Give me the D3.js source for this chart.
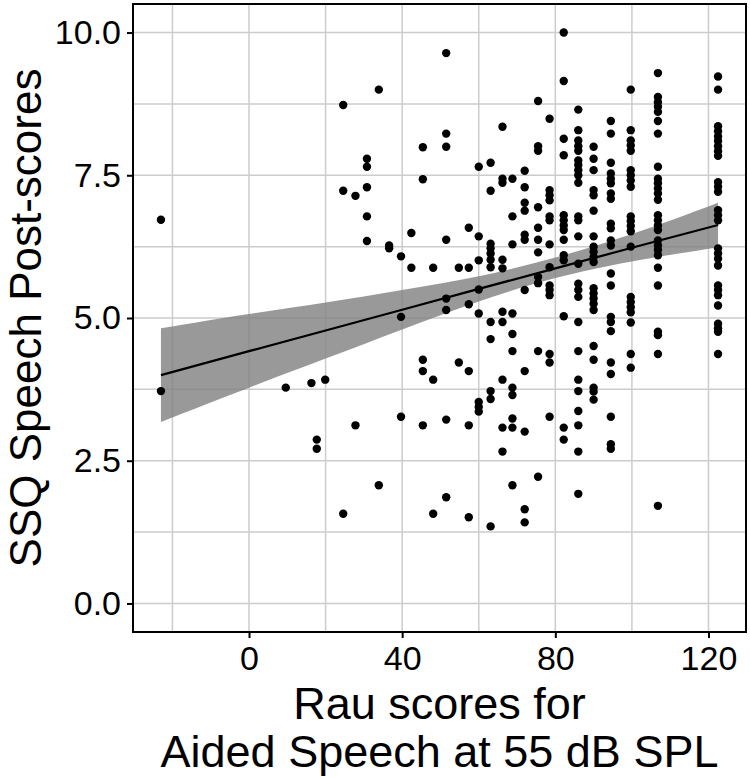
<!DOCTYPE html>
<html>
<head>
<meta charset="utf-8">
<script src="https://cdn.jsdelivr.net/npm/d3@7"></script>
<style>
    body { margin: 0; background: #fff; }
    text { font-family: "Liberation Sans", Arial, sans-serif; fill: #000; }
</style>
</head>
<body>
<svg id="chart"></svg>
<script>
// Rau score columns (x) and the SSQ post-scores read in each column
let rauColumns = [-23.0, 9.6, 16.3, 17.7, 19.9, 24.6, 27.8, 30.8, 33.9, 36.6, 39.7, 42.4, 45.4, 48.1,
    51.5, 54.8, 57.4, 60.0, 63.1, 66.2, 68.8, 72.0, 75.5, 78.5, 82.2, 86.0, 90.0, 94.5, 99.7, 106.8, 122.5];

let ssqByColumn = [
    [6.72, 3.72],
    [3.78],
    [3.86],
    [2.87, 2.71],
    [3.92],
    [8.73, 7.23, 1.57],
    [7.14, 3.12],
    [7.79, 7.65, 7.29, 6.78, 6.35],
    [9.0, 2.07],
    [6.27, 6.22],
    [6.08, 5.02, 3.27],
    [6.49, 5.88],
    [7.99, 7.43, 4.27, 4.07, 3.12],
    [5.88, 3.92, 1.57],
    [9.64, 8.23, 8.0, 6.37, 5.34, 5.14, 3.22, 1.86],
    [5.88, 4.22],
    [6.58, 5.88, 5.24, 4.07, 3.12, 1.51],
    [7.65, 6.43, 6.01, 5.50, 5.08, 3.53, 3.44, 3.36],
    [7.72, 7.23, 6.30, 6.22, 6.13, 6.02, 5.89, 4.93, 4.63, 3.72, 3.58, 1.35],
    [8.35, 7.44, 7.37, 6.02, 5.87, 5.11, 4.93, 3.92, 3.08, 2.66],
    [7.44, 6.78, 6.29, 5.08, 4.72, 4.42, 3.78, 3.65, 3.24, 3.08, 2.07],
    [7.58, 7.29, 7.02, 6.88, 6.46, 6.37, 5.49, 4.07, 3.01, 1.65, 1.42],
    [8.80, 8.01, 7.93, 6.94, 6.58, 6.37, 6.15, 5.72, 5.61, 4.42, 2.22],
    [8.49, 7.24, 7.15, 7.06, 6.78, 6.71, 6.29, 5.89, 5.57, 5.49, 5.40, 4.37, 4.22, 3.27],
    [10.0, 9.15, 8.14, 7.85, 6.80, 6.71, 6.62, 6.54, 6.37, 6.10, 6.01, 5.03, 3.08, 2.87],
    [8.65, 8.29, 8.11, 8.01, 7.93, 7.76, 7.68, 7.59, 7.50, 7.37, 6.78, 6.71, 6.43, 5.95, 5.60, 5.49,
        5.37, 4.93, 4.42, 3.92, 3.72, 3.37, 3.12, 2.66, 1.92],
    [8.0, 7.79, 7.59, 7.24, 7.15, 6.88, 6.43, 6.25, 6.16, 6.07, 5.98, 5.52, 5.43, 5.34, 5.25, 5.14,
        4.51, 4.27, 3.78, 3.71, 3.57],
    [8.45, 8.23, 7.72, 7.53, 7.44, 7.36, 7.18, 7.09, 6.65, 6.57, 6.36, 6.27, 5.78, 5.57, 5.02, 4.93,
        4.77, 4.22, 4.02, 3.27, 2.79, 2.71],
    [9.0, 8.29, 8.11, 8.02, 7.93, 7.59, 7.50, 7.41, 7.30, 6.78, 6.70, 6.61, 6.52, 6.25, 5.37, 5.28,
        5.19, 5.10, 4.92, 4.37, 4.13],
    [9.29, 8.87, 8.78, 8.70, 8.61, 8.45, 8.23, 7.65, 7.44, 7.36, 7.27, 7.18, 7.07, 6.80, 6.71, 6.62,
        6.54, 6.36, 6.27, 6.19, 6.10, 5.88, 5.57, 4.76, 4.70, 4.37, 1.71],
    [9.23, 9.0, 8.36, 8.27, 8.18, 8.10, 8.01, 7.92, 7.84, 7.38, 7.30, 7.21, 6.89, 6.80, 6.71, 6.22,
        6.13, 6.04, 5.92, 5.57, 5.49, 5.40, 5.22, 4.90, 4.82, 4.76, 4.37]
];

// fitted line and its confidence band
let fitX = [-23.0, 0, 20, 40, 60, 80, 100, 122.5];
let fitY = [4.00, 4.42, 4.78, 5.145, 5.51, 5.87, 6.23, 6.63];
let fitLow = [3.18, 3.78, 4.29, 4.80, 5.29, 5.70, 5.99, 6.24];
let fitHigh = [4.82, 5.07, 5.27, 5.49, 5.73, 6.06, 6.47, 7.02];

let xTicks = [0, 40, 80, 120];
let xMinor = [-20, 20, 60, 100];
let yTicks = [0, 2.5, 5, 7.5, 10];
let yMinor = [1.25, 3.75, 6.25, 8.75];

let margin = {top: 4, right: 4, bottom: 147, left: 133};
let width = 750 - margin.left - margin.right;
let height = 779 - margin.top - margin.bottom;

let root = d3.select('#chart')
    .attr('width', 750)
    .attr('height', 779);

let svg = root.append('g')
    .attr('transform', 'translate(' + margin.left + ',' + margin.top + ')');

let xScale = d3.scaleLinear().domain([-30.3, 129.8]).range([0, width]);
let yScale = d3.scaleLinear().domain([-0.5, 10.5]).range([height, 0]);

let points = [];
rauColumns.forEach(function (x, i) {
    ssqByColumn[i].forEach(function (y) {
        points.push({x: x, y: y});
    });
});

// grid lines (minor and major look the same here)
let gridColor = '#cccccc';
svg.append('g')
    .selectAll('line')
    .data(xMinor.concat(xTicks))
    .enter()
    .append('line')
    .attr('x1', d => xScale(d)).attr('x2', d => xScale(d))
    .attr('y1', 0).attr('y2', height)
    .attr('stroke', gridColor)
    .attr('stroke-width', 1.5);

svg.append('g')
    .selectAll('line')
    .data(yMinor.concat(yTicks))
    .enter()
    .append('line')
    .attr('y1', d => yScale(d)).attr('y2', d => yScale(d))
    .attr('x1', 0).attr('x2', width)
    .attr('stroke', gridColor)
    .attr('stroke-width', 1.5);

// confidence band
let band = fitX.map(function (x, i) {
    return {x: x, lo: fitLow[i], hi: fitHigh[i]};
});
svg.append('path')
    .datum(band)
    .attr('d', d3.area()
        .x(d => xScale(d.x))
        .y0(d => yScale(d.lo))
        .y1(d => yScale(d.hi))
        .curve(d3.curveNatural))
    .style('fill', '#808080')
    .style('fill-opacity', 0.8);

// points
svg.append('g')
    .selectAll('circle')
    .data(points)
    .enter()
    .append('circle')
    .attr('cx', d => xScale(d.x))
    .attr('cy', d => yScale(d.y))
    .attr('r', 4.2)
    .style('fill', '#000');

// regression line
svg.append('path')
    .datum(fitX.map((x, i) => ({x: x, y: fitY[i]})))
    .attr('d', d3.line().x(d => xScale(d.x)).y(d => yScale(d.y)))
    .style('fill', 'none')
    .style('stroke', '#000')
    .style('stroke-width', 2.2);

// panel border
svg.append('rect')
    .attr('x', 0).attr('y', 0)
    .attr('width', width).attr('height', height)
    .style('fill', 'none')
    .style('stroke', '#000')
    .style('stroke-width', 2);

// axes
let xAxis = d3.axisBottom(xScale)
    .tickValues(xTicks)
    .tickSize(6)
    .tickPadding(8)
    .tickFormat(d3.format('d'));
let gx = svg.append('g')
    .attr('transform', 'translate(0,' + height + ')')
    .call(xAxis);
gx.select('.domain').remove();
gx.selectAll('line').attr('stroke', '#000').attr('stroke-width', 2);
gx.selectAll('text')
    .style('font-size', '34px')
    .style('font-family', '"Liberation Sans", Arial, sans-serif')
    .attr('fill', '#000');

let yAxis = d3.axisLeft(yScale)
    .tickValues(yTicks)
    .tickSize(6)
    .tickPadding(6)
    .tickFormat(d3.format('.1f'));
let gy = svg.append('g').call(yAxis);
gy.select('.domain').remove();
gy.selectAll('line').attr('stroke', '#000').attr('stroke-width', 2);
gy.selectAll('text')
    .style('font-size', '34px')
    .style('font-family', '"Liberation Sans", Arial, sans-serif')
    .attr('fill', '#000');

// axis titles
let xCenter = margin.left + width / 2;
root.append('text')
    .attr('x', xCenter)
    .attr('y', 719)
    .attr('text-anchor', 'middle')
    .style('font-size', '45px')
    .text('Rau scores for');
root.append('text')
    .attr('x', xCenter)
    .attr('y', 767)
    .attr('text-anchor', 'middle')
    .style('font-size', '45px')
    .text('Aided Speech at 55 dB SPL');

root.append('text')
    .attr('transform', 'translate(41,' + (margin.top + height / 2) + ') rotate(-90)')
    .attr('text-anchor', 'middle')
    .style('font-size', '44px')
    .text('SSQ Speech Post-scores');
</script>
</body>
</html>
